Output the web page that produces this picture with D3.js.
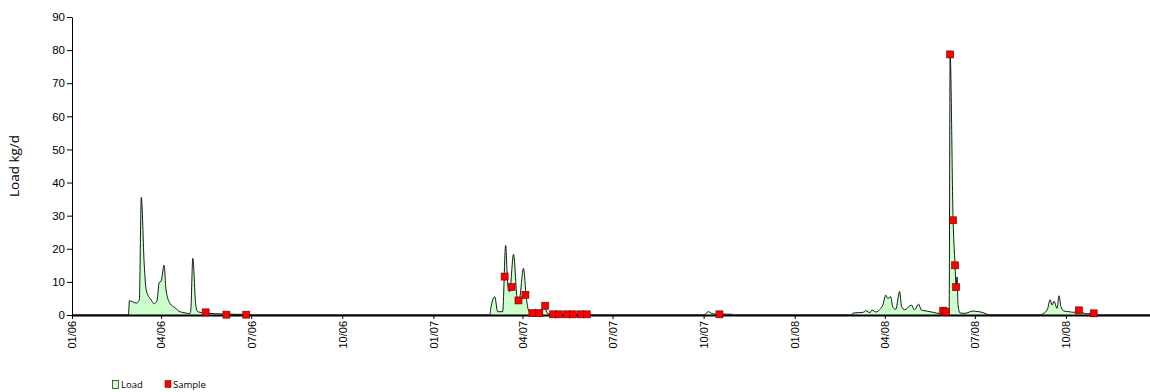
<!DOCTYPE html>
<html><head><meta charset="utf-8">
<script src="https://cdn.jsdelivr.net/npm/d3@7"></script>
<style>
html,body{margin:0;padding:0;background:#fff;}
svg{display:block;font-family:"Open Sans",sans-serif;}
</style></head>
<body><svg id="c" width="1150" height="392"></svg>
<script>
// Daily load series (kg/d): key dates and values
const loadDates = [
 "2006-01-01","2006-02-27","2006-02-28","2006-03-07","2006-03-10","2006-03-12","2006-03-15","2006-03-17","2006-03-22","2006-03-25","2006-03-28","2006-03-30","2006-04-01","2006-04-04","2006-04-06","2006-04-10","2006-04-15","2006-04-20","2006-04-26","2006-04-30","2006-05-01","2006-05-03","2006-05-06","2006-05-08","2006-05-15","2006-06-03","2006-06-30","2006-07-01",
 "2007-02-27","2007-02-28","2007-03-04","2007-03-07","2007-03-12","2007-03-15","2007-03-17","2007-03-19","2007-03-23","2007-03-27","2007-03-29","2007-04-02","2007-04-05","2007-04-07","2007-04-10","2007-04-19","2007-04-21","2007-04-23","2007-04-25","2007-04-27","2007-05-02","2007-05-03",
 "2007-10-01","2007-10-03","2007-10-06","2007-10-09","2007-10-12","2007-10-20","2007-10-30","2007-10-31",
 "2008-02-28","2008-02-29","2008-03-10","2008-03-13","2008-03-17","2008-03-19","2008-03-23","2008-03-27","2008-03-30","2008-04-02","2008-04-04","2008-04-07","2008-04-09","2008-04-12","2008-04-16","2008-04-18","2008-04-21","2008-04-28","2008-05-01","2008-05-05","2008-05-08","2008-05-13","2008-05-20","2008-05-27","2008-06-02","2008-06-05","2008-06-06","2008-06-09","2008-06-11","2008-06-12","2008-06-13","2008-06-14","2008-06-16","2008-06-21","2008-06-29","2008-07-02","2008-07-07","2008-07-12","2008-07-16",
 "2008-09-04","2008-09-12","2008-09-15","2008-09-17","2008-09-19","2008-09-22","2008-09-24","2008-09-26","2008-09-29","2008-10-04","2008-10-09","2008-10-14","2008-10-21","2008-10-29","2008-10-31","2008-12-31"
];
const loadValues = [
 0,0,4.3,3.6,4.5,35.5,15,7.5,4.5,3.4,4.5,9.8,10.2,15,7.5,3.5,2.2,1.0,0.6,0.4,1.5,17.1,3,1,0.6,0.3,0.1,0,
 0,2,5.5,1.0,1.0,21,10,7,18.3,4.5,5,14.1,5,1.5,0.5,0.4,1.5,3,1.2,0.3,0.1,0,
 0,0.4,1.0,0.5,0.3,0.3,0.2,0,
 0,0.6,0.8,1.3,0.7,1.5,0.9,1.7,3,6,5,5.5,2.5,1.7,7.1,2.5,1.6,3,1.5,3.3,1.5,1.2,0.8,0.4,0.3,0.7,79,28.6,15,8.4,11.5,3,0.6,0.5,1.2,1.1,0.9,0.4,0,
 0,1.5,4.6,3,4.2,2,5.8,2.5,1.2,1,0.8,1.2,0.4,0.4,0,0
];
// Sample points
const sampleDates = ["2006-05-16","2006-06-06","2006-06-26",
 "2007-03-14","2007-03-21","2007-03-28","2007-04-04","2007-04-11","2007-04-18","2007-04-24","2007-05-02","2007-05-08","2007-05-16","2007-05-22","2007-05-30","2007-06-05",
 "2007-10-17",
 "2008-05-30","2008-06-02","2008-06-06","2008-06-09","2008-06-11","2008-06-12",
 "2008-10-14","2008-10-29"];
const sampleValues = [0.8,0.1,0.1,
 11.6,8.4,4.4,6.1,0.6,0.6,2.8,0.2,0.2,0.2,0.2,0.2,0.2,
 0.2,
 1.3,1.0,78.7,28.6,15,8.4,
 1.4,0.5];
const yTicks = [0,10,20,30,40,50,60,70,80,90];
const xTickDates = ["2006-01-01","2006-04-01","2006-07-01","2006-10-01","2007-01-01","2007-04-01","2007-07-01","2007-10-01","2008-01-01","2008-04-01","2008-07-01","2008-10-01"];
const yTitle = "Load kg/d";
const legendLabels = ["Load","Sample"];

const parse = d3.utcParse("%Y-%m-%d");
const fmt = d3.utcFormat("%m/%y");
const svg = d3.select("#c");
const x0 = parse("2006-01-01"), x1 = parse("2008-12-31");
const x = d3.scaleUtc().domain([x0, x1]).range([72, 72 + 1095 * 0.99]);
const y = d3.scaleLinear().domain([0, 90]).range([315, 17]);

const load = loadDates.map((d, i) => ({d: parse(d), v: loadValues[i]}));
const samples = sampleDates.map((d, i) => ({d: parse(d), v: sampleValues[i]}));

// area
svg.append("path").datum(load)
  .attr("d", d3.area().curve(d3.curveMonotoneX).x(p => x(p.d)).y0(y(0)).y1(p => y(p.v)))
  .attr("fill", "#ccffcc").attr("stroke", "none");
svg.append("path").datum(load)
  .attr("d", d3.line().curve(d3.curveMonotoneX).x(p => x(p.d)).y(p => y(p.v)))
  .attr("fill", "none").attr("stroke", "#000").attr("stroke-width", 0.9);

// y axis
const ya = svg.append("g").attr("transform", "translate(72,0)")
  .call(d3.axisLeft(y).tickValues(yTicks).tickSize(5).tickSizeOuter(0));
ya.select(".domain").attr("stroke", "#000").attr("stroke-width", 1);
ya.selectAll(".tick line").attr("stroke", "#000");
ya.selectAll("text").attr("font-size", 11.5).attr("fill", "#000").attr("x", -7);

// x axis
const xa = svg.append("g").attr("transform", "translate(0,315)")
  .call(d3.axisBottom(x).tickValues(xTickDates.map(parse)).tickFormat(fmt).tickSize(4).tickSizeOuter(0));
xa.select(".domain").attr("stroke", "#000").attr("stroke-width", 2);
xa.selectAll(".tick line").attr("stroke", "#000");
xa.selectAll("text").attr("font-size", 11).attr("fill", "#000")
  .attr("transform", "rotate(-90)").attr("text-anchor", "end")
  .attr("x", -6).attr("y", 0).attr("dy", "0.35em");

// samples
svg.append("g").selectAll("rect").data(samples).join("rect")
  .attr("x", p => x(p.d) - 3.5).attr("y", p => y(p.v) - 3.5)
  .attr("width", 7).attr("height", 7)
  .attr("fill", "#ff0000").attr("stroke", "#600").attr("stroke-width", 0.6);

// y title
svg.append("text").attr("transform", "translate(19,166) rotate(-90)")
  .attr("text-anchor", "middle").attr("font-size", 13.5).attr("fill", "#000").text(yTitle);

// legend
const lg = svg.append("g").attr("font-size", 9.5).attr("font-family", "'Liberation Sans Narrow','Open Sans',sans-serif");
lg.append("rect").attr("x", 112.5).attr("y", 380.5).attr("width", 6).attr("height", 8)
  .attr("fill", "#ccffcc").attr("stroke", "#333").attr("stroke-width", 0.8);
lg.append("text").attr("x", 121).attr("y", 388).text(legendLabels[0]);
lg.append("rect").attr("x", 165).attr("y", 380.5).attr("width", 6).attr("height", 7)
  .attr("fill", "#ff0000").attr("stroke", "#600").attr("stroke-width", 0.5);
lg.append("text").attr("x", 173).attr("y", 388).text(legendLabels[1]);
</script></body></html>
